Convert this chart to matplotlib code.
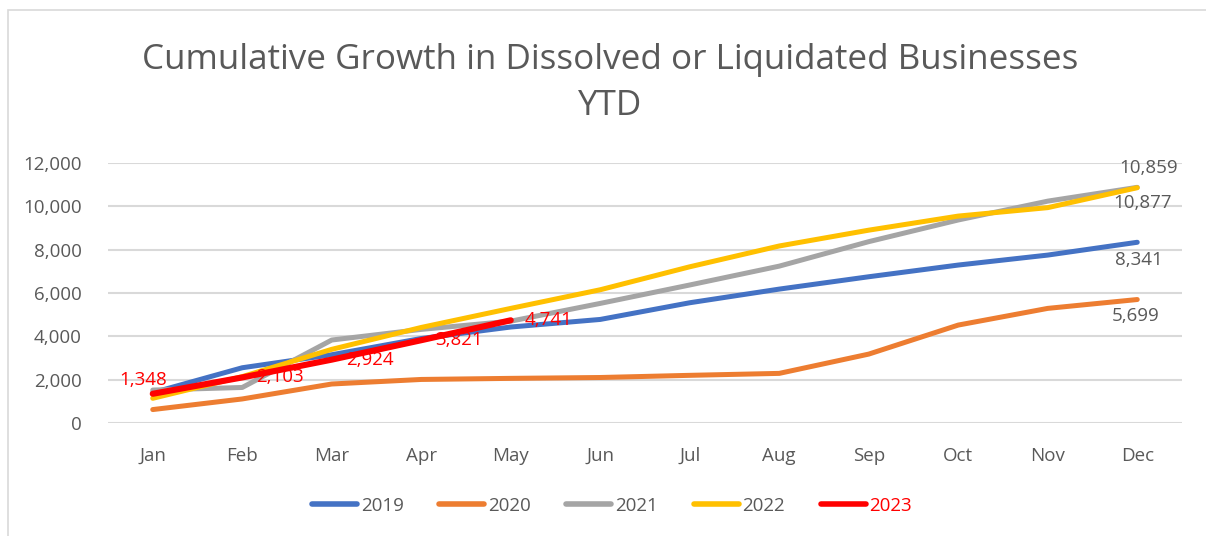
import matplotlib
matplotlib.use('Agg')
import matplotlib.pyplot as plt
from matplotlib.lines import Line2D
from matplotlib.patches import Rectangle

plt.rcParams['font.family'] = ['Open Sans', 'DejaVu Sans']

# data
months = ['Jan', 'Feb', 'Mar', 'Apr', 'May', 'Jun',
          'Jul', 'Aug', 'Sep', 'Oct', 'Nov', 'Dec']
y2019 = [1400, 2550, 3150, 3900, 4430, 4780, 5550, 6180, 6750, 7290, 7750, 8341]
y2020 = [620, 1110, 1800, 2010, 2060, 2100, 2200, 2290, 3180, 4520, 5290, 5699]
y2021 = [1520, 1640, 3830, 4320, 4700, 5520, 6370, 7240, 8370, 9370, 10240, 10877]
y2022 = [1140, 2140, 3400, 4410, 5290, 6150, 7210, 8170, 8900, 9550, 9940, 10859]
y2023 = [1348, 2103, 2924, 3821, 4741]
series_names = ['2019', '2020', '2021', '2022', '2023']
series_colors = ['#4472C4', '#ED7D31', '#A5A5A5', '#FFC000', '#FF0000']
y_ticks = [0, 2000, 4000, 6000, 8000, 10000, 12000]

TEXT = '#595959'
GRID = '#D9D9D9'
FS = 13.5

W, H = 1206, 536
fig = plt.figure(figsize=(W / 100, H / 100), dpi=100)
fig.patch.set_facecolor('white')

# outer chart border (runs off the right and bottom of the picture)
fig.add_artist(Rectangle((8 / W, -0.05), 1.1, 1 - 10 / H + 0.05,
                         transform=fig.transFigure, fill=False,
                         edgecolor=GRID, linewidth=1.2))

ax = fig.add_axes([108 / W, 1 - 423 / H, (1182 - 108) / W, (423 - 163) / H])
x = list(range(len(months)))

all_series = [y2019, y2020, y2021, y2022, y2023]
for vals, name, col in zip(all_series, series_names, series_colors):
    lw = 4.4 if name == '2023' else 3.6
    ax.plot(x[:len(vals)], vals, color=col, linewidth=lw,
            solid_capstyle='round', solid_joinstyle='round', label=name)

ax.set_xlim(-0.5, len(months) - 0.5)
ax.set_ylim(0, 12000)
ax.set_yticks(y_ticks)
ax.set_yticklabels([f'{v:,}' for v in y_ticks])
ax.set_xticks(x)
ax.set_xticklabels(months)
ax.tick_params(axis='both', length=0, labelsize=FS, colors=TEXT)
ax.tick_params(axis='y', pad=19)
ax.tick_params(axis='x', pad=17)
ax.grid(axis='y', color=GRID, linewidth=1.5)
ax.set_axisbelow(True)
for s in ax.spines.values():
    s.set_visible(False)

# end-of-year labels (dark grey)
ann = dict(textcoords='offset points', fontsize=FS, color=TEXT,
           ha='center', va='center', annotation_clip=False)
ax.annotate(f'{y2022[-1]:,}', (11, y2022[-1]), xytext=(8, 14), **ann)
ax.annotate(f'{y2021[-1]:,}', (11, y2021[-1]), xytext=(4, -11), **ann)
ax.annotate(f'{y2019[-1]:,}', (11, y2019[-1]), xytext=(1, -13), **ann)
ax.annotate(f'{y2020[-1]:,}', (11, y2020[-1]), xytext=(-1, -12), **ann)

# 2023 labels in red
for i, v in enumerate(y2023):
    if i == 0:
        ax.annotate(f'{v:,}', (i, v), xytext=(-7, 10), textcoords='offset points',
                    fontsize=FS, color='#FF0000', ha='center', va='center')
    else:
        ax.annotate(f'{v:,}', (i, v), xytext=(10, 0), textcoords='offset points',
                    fontsize=FS, color='#FF0000', ha='left', va='center')

fig.text(610 / W, 1 - 60 / H, 'Cumulative Growth in Dissolved or Liquidated Businesses',
         ha='center', va='center', fontsize=25.2, color=TEXT)
fig.text(610 / W, 1 - 106 / H, 'YTD', ha='center', va='center', fontsize=25.2, color=TEXT)

handles = [Line2D([0], [0], color=c, linewidth=4, solid_capstyle='round')
           for c in series_colors]
leg = fig.legend(handles, series_names, loc='center', bbox_to_anchor=(612 / W, 1 - 506 / H),
                 ncol=5, frameon=False, fontsize=FS, handlelength=2.4,
                 handletextpad=0.2, columnspacing=1.9)
for t, c in zip(leg.get_texts(), series_colors):
    t.set_color('#FF0000' if c == '#FF0000' else TEXT)

fig.savefig('out.png', dpi=100, facecolor='white')
